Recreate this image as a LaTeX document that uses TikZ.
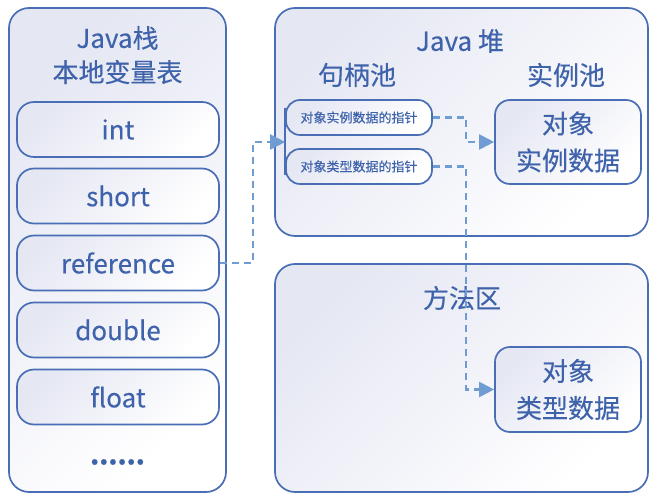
\documentclass[tikz,border=0pt]{standalone}
\usepackage{fontspec}
\setmainfont{Noto Sans CJK SC}[FakeBold=0.3]
\usetikzlibrary{arrows.meta,calc}
\definecolor{bc}{HTML}{4A6EB5}
\definecolor{tc}{HTML}{3F63AB}
\definecolor{cc}{HTML}{6F9CD2}
\definecolor{gt}{HTML}{E5E7F3}
\begin{document}
\begin{tikzpicture}[x=1pt,y=-1pt,
  box/.style={draw=bc, line width=1.7pt, top color=gt, bottom color=white, shading angle=45, inner sep=0pt, text=tc},
  panel/.style={box, rounded corners=20pt, minimum width=#1},
  item/.style={box, rounded corners=17pt, minimum width=202pt, minimum height=55pt, font=\fontsize{26}{30}\selectfont},
  hbox/.style={box, rounded corners=14pt, minimum width=146pt, minimum height=35pt, font=\fontsize{13}{15}\selectfont},
  dbox/.style={box, rounded corners=15pt, minimum width=146pt, minimum height=84pt, align=center, font=\fontsize{26}{37}\selectfont},
  title/.style={text=tc, inner sep=0pt, font=\fontsize{26}{30}\selectfont},
  conn/.style={draw=cc, line width=2.2pt, dash pattern=on 7pt off 5pt, -{Triangle[length=15pt,width=15pt]}}]
\useasboundingbox (0,0) rectangle (659,502);
% Java stack
\node[panel=217pt, minimum height=484pt] (stack) at (117.5,250) {};
\node[title] (stt) at (117.5,38) {Java栈};
\node[title] (stl) at (117.5,72) {本地变量表};
\node[item] (int) at (118,129.5) {int};
\node[item] (short) at (118,196) {short};
\node[item] (ref) at (118,263) {reference};
\node[item] (double) at (118,330) {double};
\node[item] (float) at (118,397) {float};
\node[title, font=\fontsize{26}{30}\selectfont\bfseries] (more) at (117.5,462) {......};
% Java heap
\node[panel=373pt, minimum height=228pt] (heap) at (461.5,122) {};
\node[title] (heapt) at (460,41) {Java 堆};
\node[title] (hpool) at (357,75) {句柄池};
\node[title] (ipool) at (566,75) {实例池};
\node[hbox] (p1) at (359,117.5) {对象实例数据的指针};
\node[hbox] (p2) at (359,166.5) {对象类型数据的指针};
\draw[bc, line width=1.7pt] ([yshift=9pt]p1.west) -- ([yshift=-9pt]p2.west);
\coordinate (hg) at ($(p1.west)!0.5!(p2.west)$);
\node[dbox] (inst) at (568,142) {对象\\实例数据};
% method area
\node[panel=373pt, minimum height=228pt] (meth) at (461.5,378) {};
\node[title] (metht) at (462,298) {方法区};
\node[dbox, minimum height=85pt] (type) at (568,389.5) {对象\\类型数据};
% connectors
\draw[conn] (ref.east) -- ++(33,0) |- (hg);
\draw[conn] (p1.east) -- ++(33,0) |- (inst.west);
\draw[conn] (p2.east) -- ++(33,0) |- (type.west);
\end{tikzpicture}
\end{document}
